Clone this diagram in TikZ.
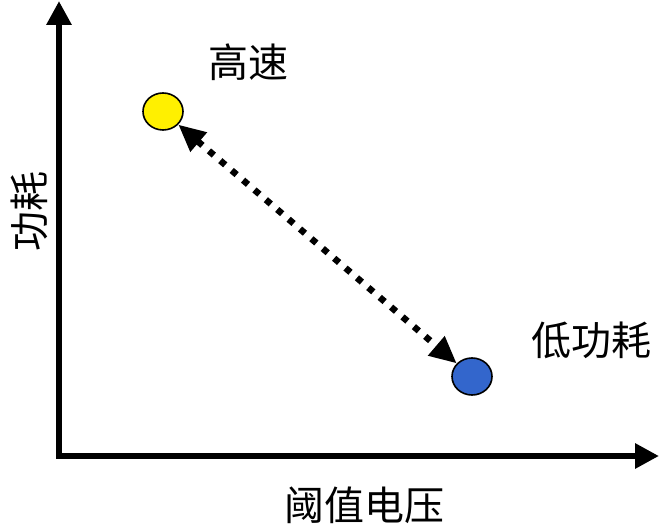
\documentclass[tikz,border=0pt]{standalone}
\usepackage{fontspec}
\newfontfamily\cjk{Noto Sans CJK SC}
\usetikzlibrary{arrows.meta,shapes.geometric}
\definecolor{dotyellow}{HTML}{FFF000}
\definecolor{dotblue}{HTML}{3366CC}
\tikzset{
  axis/.style={line width=6pt, line join=miter, -{Triangle[length=24pt,width=24pt]}},
  dotnode/.style={ellipse, draw=black, line width=1.6pt, minimum width=40pt, minimum height=37pt, inner sep=0pt},
  lbl/.style={font=\cjk\fontsize{40}{44}\selectfont, inner sep=0pt},
  linkarrow/.style={line width=6.5pt, dash pattern=on 6.5pt off 8.5pt, {Triangle[length=27pt,width=24pt]}-{Triangle[length=27pt,width=24pt]}}
}
\begin{document}
\begin{tikzpicture}[x=1pt,y=1pt]
\useasboundingbox (0,0) rectangle (660,530);
\coordinate (O) at (59,74);
\coordinate (ytop) at (59,529);
\coordinate (xend) at (659,74);
\draw[axis] (O) -- (ytop);
\draw[axis] (56,74) -- (xend);
\node[dotnode, fill=dotyellow] (fast) at (163,418.5) {};
\node[dotnode, fill=dotblue] (low) at (472,153.5) {};
\draw[linkarrow] (fast) -- (low);
\node[lbl] (tfast) at (248,468) {高速};
\node[lbl] (tlow) at (591,190) {低功耗};
\node[lbl] (tx) at (364,25) {阈值电压};
\node[lbl, rotate=90] (ty) at (29,318) {功耗};
\end{tikzpicture}
\end{document}
